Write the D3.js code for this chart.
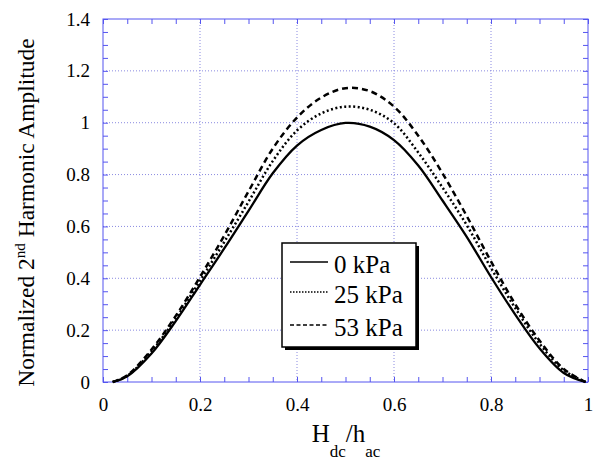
<!DOCTYPE html>
<html>
<head>
<meta charset="utf-8">
<script src="https://cdn.jsdelivr.net/npm/d3@7"></script>
<style>
  html, body { margin: 0; padding: 0; background: #fff; }
  svg { display: block; }
  text { font-family: "Liberation Serif", "Times New Roman", serif; fill: #000; }
</style>
</head>
<body>
<svg id="chart" width="600" height="467"></svg>
<script>
// ---- data ----
const xValues  = [0.02, 0.05, 0.10, 0.15, 0.20, 0.25, 0.30, 0.35, 0.40, 0.45, 0.50, 0.55, 0.60, 0.65, 0.70, 0.75, 0.80, 0.85, 0.90, 0.95, 0.995];
const y0kPa    = [0, 0.022, 0.11, 0.235, 0.375, 0.515, 0.66, 0.805, 0.912, 0.972, 0.999, 0.985, 0.933, 0.835, 0.70, 0.56, 0.405, 0.26, 0.13, 0.035, 0];
const y25kPa   = [0, 0.024, 0.118, 0.245, 0.39, 0.54, 0.695, 0.852, 0.97, 1.036, 1.062, 1.05, 0.998, 0.885, 0.75, 0.605, 0.44, 0.285, 0.148, 0.045, 0];
const y53kPa   = [0, 0.026, 0.125, 0.255, 0.405, 0.565, 0.735, 0.90, 1.02, 1.097, 1.133, 1.122, 1.062, 0.95, 0.805, 0.64, 0.465, 0.30, 0.16, 0.05, 0];
const seriesNames = ["0 kPa", "25 kPa", "53 kPa"];
const xTicks = [0, 0.2, 0.4, 0.6, 0.8, 1];
const yTicks = [0, 0.2, 0.4, 0.6, 0.8, 1, 1.2, 1.4];
const xTickLabels = ["0", "0.2", "0.4", "0.6", "0.8", "1"];
const yTickLabels = ["0", "0.2", "0.4", "0.6", "0.8", "1", "1.2", "1.4"];

// ---- layout ----
const L = 103, R = 588, T = 19, B = 382;
const FONT = '"Liberation Serif", "Times New Roman", serif';
const svg = d3.select("#chart");
const x = d3.scaleLinear().domain([0, 1]).range([L, R]);
const y = d3.scaleLinear().domain([0, 1.4]).range([B, T]);
const axisColor = "#5555f0";
const gridColor = "#8a8ae0";

// grid lines
const grid = svg.append("g");
xTicks.slice(1, -1).forEach(t => {
  grid.append("line").attr("x1", x(t)).attr("x2", x(t)).attr("y1", T).attr("y2", B)
    .attr("stroke", gridColor).attr("stroke-width", 1).attr("stroke-dasharray", "1,2");
});
yTicks.slice(1, -1).forEach(t => {
  grid.append("line").attr("x1", L).attr("x2", R).attr("y1", y(t)).attr("y2", y(t))
    .attr("stroke", gridColor).attr("stroke-width", 1).attr("stroke-dasharray", "1,2");
});

// axes with inward ticks on all four sides
const xMinor = d3.range(0, 1.0001, 0.05);
const yMinor = d3.range(0, 1.4001, 0.05);
function styleAxis(g) {
  g.select(".domain").remove();
  g.selectAll("line").attr("stroke", axisColor);
}
svg.append("g").attr("transform", `translate(0,${B})`)
  .call(d3.axisBottom(x).tickValues(xMinor).tickSize(-5).tickFormat(""))
  .call(styleAxis);
svg.append("g").attr("transform", `translate(0,${T})`)
  .call(d3.axisTop(x).tickValues(xMinor).tickSize(-5).tickFormat(""))
  .call(styleAxis);
svg.append("g").attr("transform", `translate(${L},0)`)
  .call(d3.axisLeft(y).tickValues(yMinor).tickSize(-5).tickFormat(""))
  .call(styleAxis);
svg.append("g").attr("transform", `translate(${R},0)`)
  .call(d3.axisRight(y).tickValues(yMinor).tickSize(-5).tickFormat(""))
  .call(styleAxis);

// tick labels
const xLab = svg.append("g").attr("transform", `translate(0,${B})`)
  .call(d3.axisBottom(x).tickValues(xTicks).tickSize(0).tickPadding(16)
    .tickFormat((d, i) => xTickLabels[i]));
xLab.attr("font-family", FONT).attr("font-size", 19);
xLab.select(".domain").remove();
xLab.selectAll("text").attr("fill", "#000");

const yLab = svg.append("g").attr("transform", `translate(${L},0)`)
  .call(d3.axisLeft(y).tickValues(yTicks).tickSize(0).tickPadding(13)
    .tickFormat((d, i) => yTickLabels[i]));
yLab.attr("font-family", FONT).attr("font-size", 19);
yLab.select(".domain").remove();
yLab.selectAll("text").attr("fill", "#000");

// frame
svg.append("rect").attr("x", L).attr("y", T).attr("width", R - L).attr("height", B - T)
  .attr("fill", "none").attr("stroke", axisColor).attr("stroke-width", 1);

// curves
const styles = [
  { dash: null, width: 2.3 },
  { dash: "2,2.5", width: 2.5 },
  { dash: "6,4", width: 2.5 }
];
const series = [y0kPa, y25kPa, y53kPa];
const line = d3.line().x(d => x(d[0])).y(d => y(d[1])).curve(d3.curveCatmullRom.alpha(0.5));
series.forEach((vals, i) => {
  const pts = xValues.map((xv, j) => [xv, vals[j]]);
  svg.append("path").datum(pts).attr("d", line)
    .attr("fill", "none").attr("stroke", "#000")
    .attr("stroke-width", styles[i].width)
    .attr("stroke-dasharray", styles[i].dash);
});

// legend
const lg = svg.append("g");
const lx = 282, ly = 243, lw = 134, lh = 104;
lg.append("rect").attr("x", lx + 3).attr("y", ly + 3).attr("width", lw).attr("height", lh).attr("fill", "#000");
lg.append("rect").attr("x", lx).attr("y", ly).attr("width", lw).attr("height", lh)
  .attr("fill", "#fff").attr("stroke", "#000").attr("stroke-width", 1.5);
const rowY = [262, 292, 325];
seriesNames.forEach((name, i) => {
  lg.append("line").attr("x1", 290).attr("x2", 328).attr("y1", rowY[i]).attr("y2", rowY[i])
    .attr("stroke", "#000").attr("stroke-width", i === 0 ? 1.3 : 1.6)
    .attr("stroke-dasharray", i === 0 ? null : (i === 1 ? "1.5,1.5" : "4,2.5"));
  lg.append("text").attr("x", 334).attr("y", rowY[i] + 11).attr("font-size", 25)
    .attr("font-family", FONT).text(name);
});

// x label
const xl = svg.append("text").attr("x", 346).attr("y", 442).attr("text-anchor", "middle")
  .attr("font-size", 25).attr("font-family", FONT);
xl.append("tspan").text("H");
xl.append("tspan").attr("font-size", 17).attr("dy", 15).text("dc");
xl.append("tspan").attr("dy", -15).text("/h");
xl.append("tspan").attr("font-size", 17).attr("dy", 15).text("ac");

// y label
const yl = svg.append("text").attr("transform", `translate(34,${(T + B) / 2 + 12}) rotate(-90)`)
  .attr("text-anchor", "middle").attr("font-size", 23.5).attr("font-family", FONT);
yl.append("tspan").text("Normalized 2");
yl.append("tspan").attr("font-size", 15).attr("dy", -9).text("nd");
yl.append("tspan").attr("dy", 9).text(" Harmonic Amplitude");
</script>
</body>
</html>
